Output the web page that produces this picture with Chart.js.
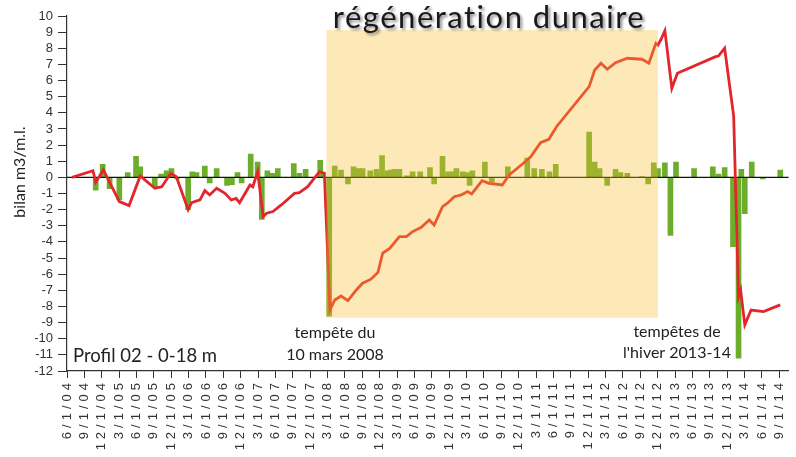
<!DOCTYPE html>
<html lang="fr">
<head>
<meta charset="UTF-8">
<title>Profil 02 - bilan sédimentaire</title>
<script src="https://cdn.jsdelivr.net/npm/chart.js"></script>
<style>
  html, body { margin: 0; padding: 0; background: #fff; }
</style>
</head>
<body>
<canvas id="chart" width="796" height="457"></canvas>
<script>
// quarterly axis labels (m/d/yy)
const tickLabels = [
  '6/1/04','9/1/04','12/1/04',
  '3/1/05','6/1/05','9/1/05','12/1/05',
  '3/1/06','6/1/06','9/1/06','12/1/06',
  '3/1/07','6/1/07','9/1/07','12/1/07',
  '3/1/08','6/1/08','9/1/08','12/1/08',
  '3/1/09','6/1/09','9/1/09','12/1/09',
  '3/1/10','6/1/10','9/1/10','12/1/10',
  '3/1/11','6/1/11','9/1/11','12/1/11',
  '3/1/12','6/1/12','9/1/12','12/1/12',
  '3/1/13','6/1/13','9/1/13','12/1/13',
  '3/1/14','6/1/14','9/1/14'
];

// cumulative balance (red line), dates in decimal years
const lineDates = [
  2004.49, 2004.79, 2004.83, 2004.94, 2005.17, 2005.31, 2005.47, 2005.68, 2005.78, 2005.91,
  2005.99, 2006.16, 2006.21, 2006.33, 2006.40, 2006.47, 2006.57, 2006.69, 2006.78, 2006.85,
  2006.90, 2007.05, 2007.09, 2007.16, 2007.24, 2007.29, 2007.38, 2007.50, 2007.69, 2007.76,
  2007.88, 2008.05, 2008.12, 2008.20, 2008.27, 2008.36, 2008.46, 2008.58, 2008.67, 2008.79,
  2008.89, 2008.96, 2009.06, 2009.20, 2009.30, 2009.39, 2009.51, 2009.63, 2009.70, 2009.82,
  2009.89, 2009.99, 2010.09, 2010.18, 2010.24, 2010.39, 2010.49, 2010.68, 2010.78, 2010.97,
  2011.09, 2011.23, 2011.35, 2011.46, 2011.93, 2012.01, 2012.10, 2012.19, 2012.31, 2012.48,
  2012.69, 2012.79, 2012.89, 2012.92, 2012.96, 2013.02, 2013.12, 2013.20, 2013.75, 2013.79,
  2013.88, 2014.01, 2014.08, 2014.11, 2014.17, 2014.26, 2014.44, 2014.68
];
const lineValues = [
  0, 0.41, -0.3, 0.46, -1.5, -1.75, 0.09, -0.68, -0.58, 0.25,
  0.04, -2.0, -1.57, -1.4, -0.82, -1.09, -0.68, -0.99, -1.4, -1.3,
  -1.57, -0.47, -0.58, 0.35, -2.43, -2.22, -2.12, -1.71, -0.99, -0.95,
  -0.58, 0.35, 0.25, -8.22, -7.6, -7.35, -7.64, -6.98, -6.56, -6.31,
  -5.9, -4.7, -4.4, -3.67, -3.67, -3.36, -3.11, -2.64, -2.95, -1.81,
  -1.6, -1.2, -1.09, -0.88, -1.03, -0.2, -0.37, -0.47, 0.15, 0.83,
  1.28, 2.15, 2.36, 3.14, 5.62, 6.65, 7.07, 6.7, 7.11, 7.38,
  7.32, 7.07, 8.31, 8.2, 8.51, 9.09, 5.52, 6.45, 7.48, 7.52,
  8.0, 3.8, -7.39, -6.98, -9.14, -8.22, -8.32, -7.9
];

// balance between two surveys (green bars)
const barDates = [
  2004.83, 2004.93, 2005.03, 2005.17, 2005.29, 2005.41, 2005.47, 2005.68, 2005.77, 2005.85,
  2005.92, 2006.00, 2006.16, 2006.22, 2006.28, 2006.40, 2006.47, 2006.57, 2006.72, 2006.79,
  2006.87, 2006.93, 2007.06, 2007.16, 2007.22, 2007.30, 2007.37, 2007.45, 2007.68, 2007.76,
  2007.85, 2008.06, 2008.19, 2008.27, 2008.36, 2008.46, 2008.54, 2008.61, 2008.67, 2008.78,
  2008.87, 2008.95, 2009.03, 2009.08, 2009.13, 2009.20, 2009.31, 2009.39, 2009.50, 2009.64,
  2009.70, 2009.82, 2009.90, 2009.97, 2010.02, 2010.11, 2010.18, 2010.21, 2010.25, 2010.43,
  2010.53, 2010.76, 2011.04, 2011.14, 2011.25, 2011.36, 2011.45, 2011.93, 2012.01, 2012.08,
  2012.19, 2012.31, 2012.38, 2012.48, 2012.69, 2012.78, 2012.86, 2012.92, 2013.02, 2013.10,
  2013.18, 2013.44, 2013.71, 2013.79, 2013.88, 2014.00, 2014.08, 2014.12, 2014.17, 2014.27,
  2014.43, 2014.68
];
const barValues = [
  -0.8, 0.8, -0.7, -1.4, 0.3, 1.3, 0.65, -0.6, 0.2, 0.4,
  0.55, -0.1, -2.0, 0.35, 0.3, 0.7, -0.35, 0.55, -0.5, -0.45,
  0.3, -0.35, 1.45, 0.95, -2.6, 0.4, 0.25, 0.55, 0.85, 0.25,
  0.5, 1.05, -8.6, 0.7, 0.45, -0.4, 0.65, 0.55, 0.55, 0.4,
  0.5, 1.35, 0.4, 0.45, 0.5, 0.5, 0.1, 0.35, 0.35, 0.6,
  -0.4, 1.3, 0.35, 0.35, 0.55, 0.35, 0.3, -0.5, 0.4, 0.95,
  -0.3, 0.65, 1.2, 0.55, 0.5, 0.35, 0.8, 2.8, 0.95, 0.55,
  -0.5, 0.5, 0.3, 0.25, 0.05, -0.4, 0.9, 0.55, 0.9, -3.6,
  0.95, 0.55, 0.65, 0.2, 0.6, -4.3, -11.2, 0.5, -2.25, 0.95,
  -0.1, 0.45
];

// "régénération dunaire" period
const regenFrom = 2008.15, regenTo = 2012.92, regenTop = 9.13, regenBottom = -8.7;

// m/d/yy -> decimal year
const tickDates = tickLabels.map(l => {
    const p = l.split('/');
    return 2000 + Number(p[2]) + (Number(p[0]) - 1) / 12;
});

Chart.defaults.font.family = '"Liberation Sans", Arial, sans-serif';

const extras = {
    id: 'extras',
    beforeDraw(chart) {
        // spaced-out date labels like the original
        const sx = chart.scales.x;
        if (!sx._spaced) {
            const orig = sx.drawLabels.bind(sx);
            sx.drawLabels = function (area) {
                const c = this.ctx;
                c.save();
                c.letterSpacing = '4px';
                orig(area);
                c.restore();
            };
            sx._spaced = true;
        }
    },
    afterDatasetDraw(chart, args) {
        if (args.index !== 0) return;
        // zero line over the bars
        const a = chart.chartArea, y0 = chart.scales.y.getPixelForValue(0);
        const c = chart.ctx;
        c.save();
        c.strokeStyle = '#111';
        c.lineWidth = 1.3;
        c.beginPath();
        c.moveTo(a.left, y0);
        c.lineTo(a.right, y0);
        c.stroke();
        c.restore();
    },
    afterDatasetsDraw(chart) {
        const sx = chart.scales.x, sy = chart.scales.y, c = chart.ctx;
        const x1 = sx.getPixelForValue(regenFrom), x2 = sx.getPixelForValue(regenTo);
        const y1 = sy.getPixelForValue(regenTop), y2 = sy.getPixelForValue(regenBottom);
        c.save();
        c.fillStyle = 'rgba(250, 190, 50, 0.35)';
        c.fillRect(x1, y1, x2 - x1, y2 - y1);
        c.restore();
    },
    afterDraw(chart) {
        const c = chart.ctx;
        c.save();
        // title with shadow
        c.font = '31px Lato';
        c.letterSpacing = '1.5px';
        c.textAlign = 'center';
        c.textBaseline = 'alphabetic';
        c.shadowColor = 'rgba(0,0,0,0.45)';
        c.shadowOffsetX = 2;
        c.shadowOffsetY = 2;
        c.shadowBlur = 3;
        c.fillStyle = '#1a1a1a';
        c.fillText('régénération dunaire', 489, 28);
        c.shadowColor = 'transparent';
        c.letterSpacing = '0px';

        c.fillStyle = '#222';
        c.font = '16px Lato';
        c.fillText('tempête du', 335, 338);
        c.fillText('10 mars 2008', 335, 360);
        c.fillText('tempêtes de', 677, 337);
        c.fillText("l'hiver 2013-14", 677, 358);

        c.textAlign = 'left';
        c.font = '18.5px Lato';
        c.fillText('Profil 02 - 0-18 m', 73, 362);

        // y axis title
        c.translate(20, 172);
        c.rotate(-Math.PI / 2);
        c.textAlign = 'center';
        c.textBaseline = 'middle';
        c.font = '16px Lato';
        c.fillText('bilan m3/m.l.', 0, 0);
        c.restore();
    }
};

new Chart(document.getElementById('chart'), {
    type: 'line',
    data: {
        datasets: [{
            type: 'bar',
            data: barDates.map((d, i) => ({ x: d, y: barValues[i] })),
            backgroundColor: '#6cae2c',
            barThickness: 5,
            order: 2
        }, {
            type: 'line',
            data: lineDates.map((d, i) => ({ x: d, y: lineValues[i] })),
            borderColor: '#e4262c',
            borderWidth: 2.8,
            pointRadius: 0,
            tension: 0,
            fill: false,
            order: 1
        }]
    },
    options: {
        responsive: false,
        animation: false,
        devicePixelRatio: 1,
        layout: { padding: { top: 16, right: 7, left: 0, bottom: 0 } },
        plugins: { legend: { display: false }, tooltip: { enabled: false } },
        scales: {
            x: {
                type: 'linear',
                min: tickDates[0],
                max: 2014.8,
                offset: false,
                afterBuildTicks: s => { s.ticks = tickDates.map(v => ({ value: v })); },
                afterFit: s => { s.height = 86; },
                grid: { offset: false, drawOnChartArea: false, tickLength: 7, color: '#333' },
                border: { color: '#333', width: 1.2 },
                ticks: {
                    autoSkip: false, maxRotation: 90, minRotation: 90, padding: 1,
                    color: '#333', font: { size: 13 },
                    callback: (v, i) => tickLabels[i]
                }
            },
            y: {
                min: -12,
                max: 10,
                afterFit: s => { s.width = 67; },
                grid: { drawOnChartArea: false, tickLength: 9, color: '#333' },
                border: { color: '#333', width: 1.2 },
                ticks: { stepSize: 1, autoSkip: false, padding: 5, color: '#333', font: { size: 13 } }
            }
        }
    },
    plugins: [extras]
});
</script>
</body>
</html>
